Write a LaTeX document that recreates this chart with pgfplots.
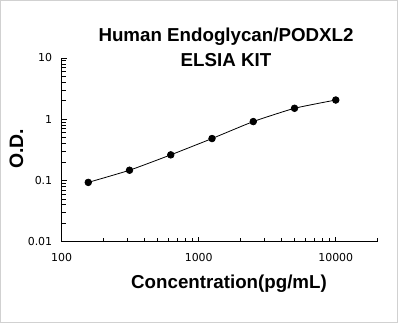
\documentclass[border=0pt]{standalone}
\usepackage{fontspec}
\setmainfont{Liberation Sans}
\newfontfamily\tickfont{DejaVu Sans}
\usepackage{pgfplots}
\pgfplotsset{compat=1.18}
\begin{document}
\begin{tikzpicture}
\useasboundingbox (0,0) rectangle (398bp,323bp);
\draw[line width=1bp, black!18] (0.5bp,0.5bp) rectangle (397.5bp,322.5bp);
\begin{axis}[
  at={(61.7bp,81.3bp)}, anchor=south west,
  scale only axis, width=315.3bp, height=183.7bp,
  xmode=log, ymode=log,
  xmin=100, xmax=20000, ymin=0.01, ymax=10,
  axis lines*=left,
  axis line style={line width=0.9bp},
  xtick={100,1000,10000}, xticklabels={100,1000,10000},
  minor xtick={200,300,400,500,600,700,800,900,2000,3000,4000,5000,6000,7000,8000,9000,20000},
  ytick={0.01,0.1,1,10}, yticklabels={0.01,0.1,1,10},
  minor ytick={0.02,0.03,0.04,0.05,0.06,0.07,0.08,0.09,0.2,0.3,0.4,0.5,0.6,0.7,0.8,0.9,2,3,4,5,6,7,8,9},
  tick align=inside,
  major tick length=5bp, minor tick length=4bp,
  tick style={black, line width=0.8bp},
  ticklabel style={font=\tickfont\fontsize{11}{12}\selectfont},
  /pgf/number format/assume math mode=true,
  xticklabel style={yshift=-8bp},
  yticklabel style={xshift=-6bp},
  clip=false,
]
\addplot[black, line width=0.8bp, smooth, tension=0.3, mark=*, mark size=3.3bp, mark options={solid, fill=black}]
coordinates {(156.25,0.093) (312.5,0.147) (625,0.262) (1250,0.484) (2500,0.916) (5000,1.51) (10000,2.06)};
\end{axis}
\node[font=\bfseries\fontsize{18.8}{20}\selectfont] at (226bp,286bp) {Human Endoglycan/PODXL2};
\node[font=\bfseries\fontsize{18.8}{20}\selectfont] at (226bp,263bp) {ELSIA KIT};
\node[font=\bfseries\fontsize{18.8}{20}\selectfont] at (229bp,39bp) {Concentration(pg/mL)};
\node[font=\bfseries\fontsize{19.5}{20}\selectfont, rotate=90] at (16.5bp,174bp) {O.D.};
\end{tikzpicture}
\end{document}
